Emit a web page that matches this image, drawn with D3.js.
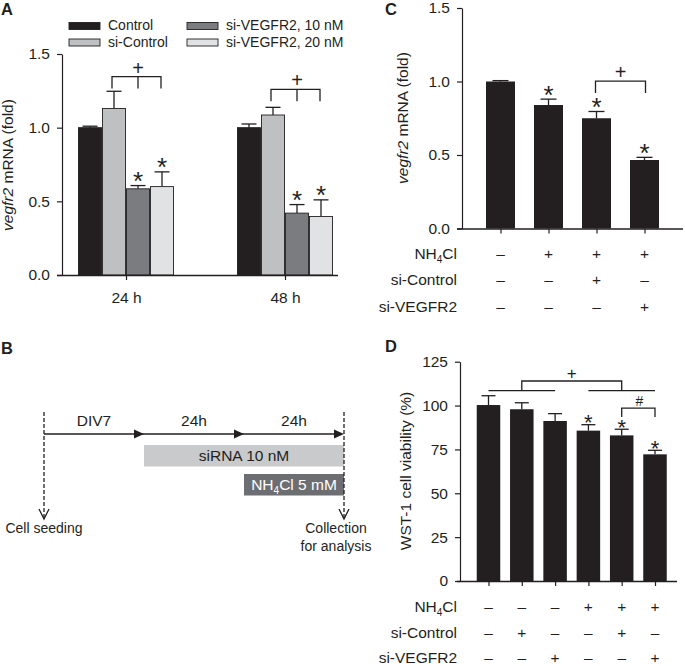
<!DOCTYPE html>
<html>
<head>
<meta charset="utf-8">
<script src="https://cdn.jsdelivr.net/npm/d3@7"></script>
<style>
  body { margin: 0; background: #fff; }
  svg text { font-family: "Liberation Sans", Arial, Helvetica, sans-serif; fill: #231f20; }
  .axis path, .axis line { stroke: #231f20; stroke-width: 1.2; }
  .axis text { font-size: 15.5px; }
  .ink { stroke: #231f20; stroke-width: 1.3; fill: none; }
</style>
</head>
<body>
<svg id="fig" width="685" height="666"></svg>
<script>
const INK = '#231f20';

// ---- panel A: vegfr2 mRNA after knock-down
const groupsA = ['24 h', '48 h'];
const seriesA = ['Control', 'si-Control', 'si-VEGFR2, 10 nM', 'si-VEGFR2, 20 nM'];
const meanA = [[1.0, 1.13, 0.585, 0.60], [1.0, 1.086, 0.42, 0.397]];
const errA = [[0.01, 0.117, 0.022, 0.10], [0.025, 0.052, 0.058, 0.113]];
const starsA = [[false, false, true, true], [false, false, true, true]];
const ticksA = [0, 0.5, 1.0, 1.5];
// bracket: from series i to series j, middle drop at k, level / drop in fold units
const bracketsA = [
  { group: '24 h', from: 1, mid: 2, to: 3, level: 1.346, drop: 1.265, mark: '+' },
  { group: '48 h', from: 1, mid: 2, to: 3, level: 1.26, drop: 1.18, mark: '+' }
];

// ---- panel C: vegfr2 mRNA with NH4Cl
const condC = ['c1', 'c2', 'c3', 'c4'];
const meanC = [1.0, 0.84, 0.75, 0.466];
const errC = [0.006, 0.04, 0.046, 0.018];
const starsC = [false, true, true, true];
const ticksC = [0, 0.5, 1.0, 1.5];
const bracketC = { from: 2, to: 3, level: 1.003, drop: 0.922, mark: '+' };

const rowLabels = ['NH4Cl', 'si-Control', 'si-VEGFR2'];
const tableC = [['–', '+', '+', '+'], ['–', '–', '+', '–'], ['–', '–', '–', '+']];

// ---- panel D: WST-1 viability
const condD = ['d1', 'd2', 'd3', 'd4', 'd5', 'd6'];
const meanD = [100.3, 97.9, 91.2, 85.7, 83.0, 72.2];
const errD = [5.3, 3.7, 4.2, 3.4, 3.5, 2.3];
const starsD = [false, false, false, true, true, true];
const ticksD = [0, 25, 50, 75, 100, 125];
const tableD = [['–', '–', '–', '+', '+', '+'], ['–', '+', '–', '–', '+', '–'], ['–', '–', '+', '–', '–', '+']];

// ---- panel B: protocol timeline
const stepsB = ['DIV7', '24h', '24h'];
const treatB = [
  { label: 'siRNA 10 nM', from: 1, to: 3 },
  { label: 'NH4Cl 5 mM', from: 2, to: 3 }
];
const endsB = [['Cell seeding'], ['Collection', 'for analysis']];

const barColoursA = ['#231f20', '#bfc0c2', '#7b7c7f', '#e1e2e3'];
const treatColours = ['#c9cacc', '#6d6e71'];
const treatText = [INK, '#fff'];

const svg = d3.select('#fig');

// text with NH4 subscript
function chem(sel, str, subSize) {
  const parts = str.split('NH4');
  if (parts.length === 1) { sel.text(str); return; }
  sel.append('tspan').text('NH');
  sel.append('tspan').attr('font-size', subSize).attr('dy', 4).text('4');
  sel.append('tspan').attr('dy', -4).text(parts[1]);
}

function panelLetter(x, y, t) {
  svg.append('text').attr('x', x).attr('y', y)
    .attr('font-size', 16.5).attr('font-weight', 'bold').text(t);
}

function leftAxis(scale, x, values, fmt) {
  svg.append('g').attr('class', 'axis').attr('transform', `translate(${x},0)`)
    .call(d3.axisLeft(scale).tickValues(values).tickFormat(fmt)
      .tickSize(5).tickSizeOuter(0).tickPadding(7));
}

function bottomTicks(scale, y, x0, x1, labels) {
  const g = svg.append('g').attr('class', 'axis').attr('transform', `translate(0,${y})`)
    .call(d3.axisBottom(scale).tickSize(5).tickPadding(11.5)
      .tickFormat(labels ? (d) => d : () => ''));
  g.select('.domain').remove();
  svg.append('line').attr('class', 'ink').attr('stroke-width', 1.2)
    .attr('x1', x0).attr('x2', x1).attr('y1', y + 0.5).attr('y2', y + 0.5);
}

function errorBar(cx, y0, y1, cap) {
  svg.append('line').attr('class', 'ink').attr('x1', cx).attr('x2', cx).attr('y1', y0).attr('y2', y1);
  svg.append('line').attr('class', 'ink').attr('x1', cx - cap).attr('x2', cx + cap).attr('y1', y1).attr('y2', y1);
}

function star(cx, yTop, size, lift) {
  svg.append('text').attr('x', cx).attr('y', yTop + lift)
    .attr('text-anchor', 'middle').attr('font-size', size).text('*');
}

function mark(cx, y, size, t) {
  svg.append('text').attr('x', cx).attr('y', y)
    .attr('text-anchor', 'middle').attr('font-size', size).text(t);
}

function yLabel(x, cy, parts) {
  const t = svg.append('text').attr('transform', `translate(${x},${cy}) rotate(-90)`)
    .attr('text-anchor', 'middle').attr('font-size', 15.5);
  parts.forEach(([s, it]) => t.append('tspan').attr('font-style', it ? 'italic' : null).text(s));
}

function table(xScale, conds, rows, y0, dy) {
  rowLabels.forEach((lab, r) => {
    const y = y0 + r * dy;
    chem(svg.append('text').attr('x', 457).attr('y', y).attr('text-anchor', 'end')
      .attr('font-size', 15.5), lab, 10);
    conds.forEach((c, i) => {
      svg.append('text').attr('x', xScale(c)).attr('y', y).attr('text-anchor', 'middle')
        .attr('font-size', 15.5).text(rows[r][i]);
    });
  });
}

// ================= A =================
panelLetter(1, 15, 'A');
const yA = d3.scaleLinear().domain([0, 1.5]).range([275, 54]);
const xA = d3.scalePoint().domain(groupsA).range([126, 285]);
const inA = d3.scaleBand().domain(seriesA).range([-48, 48]);

const rowsA = groupsA.flatMap((g, gi) => seriesA.map((s, si) => ({
  g, s, si, mean: meanA[gi][si], err: errA[gi][si], star: starsA[gi][si]
})));

rowsA.forEach((d) => {
  const cx = xA(d.g) + inA(d.s) + inA.bandwidth() / 2;
  errorBar(cx, yA(d.mean), yA(d.mean + d.err), 7.5);
});
svg.append('g').selectAll('rect').data(rowsA).join('rect')
  .attr('x', (d) => xA(d.g) + inA(d.s) + 0.5)
  .attr('y', (d) => yA(d.mean))
  .attr('width', inA.bandwidth() - 1)
  .attr('height', (d) => yA(0) - yA(d.mean))
  .attr('fill', (d) => barColoursA[d.si])
  .attr('stroke', INK).attr('stroke-width', 0.9);
rowsA.filter((d) => d.star).forEach((d) => {
  star(xA(d.g) + inA(d.s) + inA.bandwidth() / 2, yA(d.mean + d.err), 26, 4.5);
});

leftAxis(yA, 62, ticksA, d3.format('.1f'));
bottomTicks(xA, 275, 57, 338, true);
yLabel(13, 165, [['vegfr2', true], [' mRNA (fold)', false]]);

bracketsA.forEach((b) => {
  const cxOf = (i) => xA(b.group) + inA(seriesA[i]) + inA.bandwidth() / 2;
  const x0 = cxOf(b.from) - 2, x1 = cxOf(b.to) - 1, xm = cxOf(b.mid);
  svg.append('path').attr('class', 'ink')
    .attr('d', `M${x0},${yA(b.drop)}V${yA(b.level)}H${x1}V${yA(b.drop)}M${xm},${yA(b.level)}V${yA(b.drop)}`);
  mark(xm, yA(b.level) - 2, 20, b.mark);
});

// legend
seriesA.forEach((s, i) => {
  const col = Math.floor(i / 2), row = i % 2;
  const lx = 69 + col * 118, ly = 22.5 + row * 16.5;
  svg.append('rect').attr('x', lx).attr('y', ly).attr('width', 31).attr('height', 7)
    .attr('fill', barColoursA[i]).attr('stroke', INK).attr('stroke-width', 0.9);
  svg.append('text').attr('x', lx + 39).attr('y', ly + 7.5).attr('font-size', 14).text(s);
});

// ================= C =================
panelLetter(385, 15, 'C');
const yC = d3.scaleLinear().domain([0, 1.5]).range([228.5, 8]);
const xC = d3.scalePoint().domain(condC).range([500.5, 644.5]);
const bwC = 29;

condC.forEach((c, i) => errorBar(xC(c), yC(meanC[i]), yC(meanC[i] + errC[i]), 8));
svg.append('g').selectAll('rect').data(condC).join('rect')
  .attr('x', (c) => xC(c) - bwC / 2)
  .attr('y', (c, i) => yC(meanC[i]))
  .attr('width', bwC)
  .attr('height', (c, i) => yC(0) - yC(meanC[i]))
  .attr('fill', INK);
condC.forEach((c, i) => { if (starsC[i]) star(xC(c), yC(meanC[i] + errC[i]), 26, 4.5); });

leftAxis(yC, 462, ticksC, d3.format('.1f'));
bottomTicks(xC, 228.5, 457, 683, false);
yLabel(408, 118, [['vegfr2', true], [' mRNA (fold)', false]]);
{
  const x0 = xC(condC[bracketC.from]) - 1, x1 = xC(condC[bracketC.to]) + 1;
  svg.append('path').attr('class', 'ink')
    .attr('d', `M${x0},${yC(bracketC.drop)}V${yC(bracketC.level)}H${x1}V${yC(bracketC.drop)}`);
  mark((x0 + x1) / 2, yC(bracketC.level) - 2.5, 20, bracketC.mark);
}
table(xC, condC, tableC, 259, 26.3);

// ================= D =================
panelLetter(385, 352, 'D');
const yD = d3.scaleLinear().domain([0, 125]).range([581, 361.7]);
const xD = d3.scalePoint().domain(condD).range([488.5, 655]);
const bwD = 23.5;

condD.forEach((c, i) => errorBar(xD(c), yD(meanD[i]), yD(meanD[i] + errD[i]), 7));
svg.append('g').selectAll('rect').data(condD).join('rect')
  .attr('x', (c) => xD(c) - bwD / 2)
  .attr('y', (c, i) => yD(meanD[i]))
  .attr('width', bwD)
  .attr('height', (c, i) => yD(0) - yD(meanD[i]))
  .attr('fill', INK);
condD.forEach((c, i) => { if (starsD[i]) star(xD(c), yD(meanD[i] + errD[i]), 22, 5.5); });

leftAxis(yD, 460, ticksD, d3.format('d'));
bottomTicks(xD, 581, 457, 677, false);
yLabel(411, 471, [['WST-1 cell viability (%)', false]]);

// + bracket: groups 1-3 vs 4-6
svg.append('path').attr('class', 'ink')
  .attr('d', `M${xD('d1')},${yD(108.5)}H${xD('d3')}M${xD('d4')},${yD(108.5)}H${xD('d6')}`);
svg.append('path').attr('class', 'ink')
  .attr('d', `M${xD('d2')},${yD(108.5)}V${yD(114)}H${xD('d5')}V${yD(108.5)}`);
mark((xD('d2') + xD('d5')) / 2, yD(114) - 1.7, 17, '+');
// # bracket
svg.append('path').attr('class', 'ink')
  .attr('d', `M${xD('d5')},${yD(93.5)}V${yD(98.5)}H${xD('d6')}V${yD(93.5)}`);
mark((xD('d5') + xD('d6')) / 2 + 1, yD(98.5) - 2.5, 14, '#');

table(xD, condD, tableD, 612, 25.5);

// ================= B =================
panelLetter(1, 354, 'B');
const tB = d3.scaleLinear().domain([0, 3]).range([44, 344]);
const lineY = 434;

svg.append('line').attr('class', 'ink').attr('stroke-width', 2)
  .attr('x1', tB(0)).attr('x2', tB(3) - 4).attr('y1', lineY).attr('y2', lineY);
[1, 2, 3].forEach((k) => {
  const x = tB(k);
  svg.append('path').attr('fill', INK)
    .attr('d', `M${x},${lineY}L${x - 10},${lineY - 4.5}L${x - 10},${lineY + 4.5}Z`);
});
stepsB.forEach((s, i) => {
  svg.append('text').attr('x', (tB(i) + tB(i + 1)) / 2).attr('y', 426)
    .attr('text-anchor', 'middle').attr('font-size', 15.5).text(s);
});

treatB.forEach((t, i) => {
  const y = 445 + i * 29;
  svg.append('rect').attr('x', tB(t.from)).attr('y', y)
    .attr('width', tB(t.to) - tB(t.from)).attr('height', 21.5).attr('fill', treatColours[i]);
  chem(svg.append('text').attr('x', (tB(t.from) + tB(t.to)) / 2).attr('y', y + 16.3)
    .attr('text-anchor', 'middle').attr('font-size', 15.5)
    .style('fill', treatText[i]), t.label, 10);
});

[0, 3].forEach((k) => {
  const x = tB(k);
  svg.append('line').attr('class', 'ink').attr('stroke-width', 1.1).attr('stroke-dasharray', '4,2')
    .attr('x1', x).attr('x2', x).attr('y1', 412).attr('y2', 518);
  svg.append('path').attr('class', 'ink').attr('stroke-width', 1.3)
    .attr('d', `M${x - 5},${509}L${x},${519}L${x + 5},${509}`);
});

endsB.forEach((lines, i) => {
  const x = i === 0 ? tB(0) : tB(3) - 8;
  lines.forEach((l, j) => {
    svg.append('text').attr('x', x).attr('y', 533 + j * 17.5)
      .attr('text-anchor', 'middle').attr('font-size', 14).text(l);
  });
});
</script>
</body>
</html>
